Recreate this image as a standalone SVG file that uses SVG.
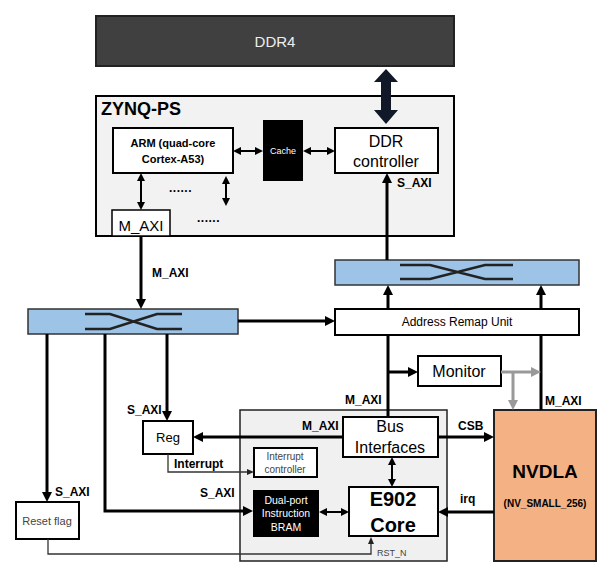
<svg xmlns="http://www.w3.org/2000/svg" width="610" height="574" viewBox="0 0 610 574">
<style>
text{font-family:"Liberation Sans",Arial,sans-serif;}
.b{font-weight:bold;}
.lbl{font-weight:bold;font-size:12px;fill:#000;}
.box{fill:#fff;stroke:#000;stroke-width:2;}
.c{stroke:#000;fill:none;stroke-width:3;}
.cs{stroke:#000;fill:none;stroke-width:2;}
.ct{stroke:#333;fill:none;stroke-width:1.3;}
.cg{stroke:#999;fill:none;stroke-width:3;}
.xb{fill:#9dc3e6;stroke:#333;stroke-width:1.5;}
.xl{stroke:#222;fill:none;stroke-width:2.5;}
</style>
<defs>
<marker id="a" viewBox="0 0 10 10" refX="4" refY="5" markerWidth="10" markerHeight="10" markerUnits="userSpaceOnUse" orient="auto-start-reverse"><path d="M0,0 L10,5 L0,10 z" fill="#000"/></marker>
<marker id="s" viewBox="0 0 8 8" refX="3" refY="4" markerWidth="8" markerHeight="8" markerUnits="userSpaceOnUse" orient="auto-start-reverse"><path d="M0,0 L8,4 L0,8 z" fill="#000"/></marker>
<marker id="t" viewBox="0 0 7 6" refX="2" refY="3" markerWidth="7" markerHeight="6" markerUnits="userSpaceOnUse" orient="auto"><path d="M0,0 L7,3 L0,6 z" fill="#222"/></marker>
<marker id="g" viewBox="0 0 10 10" refX="4" refY="5" markerWidth="10" markerHeight="10" markerUnits="userSpaceOnUse" orient="auto"><path d="M0,0 L10,5 L0,10 z" fill="#999"/></marker>
</defs>

<g id="ddr4">
<rect x="96" y="16" width="358" height="50" fill="#404040" stroke="#222" stroke-width="2"/>
<text x="275" y="47" font-size="15" fill="#eee" text-anchor="middle">DDR4</text>
</g>

<g id="zynq-ps">
<rect x="96" y="96" width="358" height="140" fill="#f2f2f2" stroke="#000" stroke-width="2"/>
<text x="101" y="115" font-size="18" class="b">ZYNQ-PS</text>
<text x="169" y="192" font-size="12" class="b" letter-spacing="0.5">......</text>
<text x="197" y="222" font-size="12" class="b" letter-spacing="0.5">......</text>
</g>

<g id="arm">
<rect class="box" x="113" y="128" width="120" height="45"/>
<text x="173" y="147" font-size="11" class="b" text-anchor="middle">ARM (quad-core</text>
<text x="173" y="163" font-size="11" class="b" text-anchor="middle">Cortex-A53)</text>
</g>

<g id="cache">
<rect x="263" y="120" width="40" height="61" fill="#000"/>
<text x="283" y="154" font-size="9" fill="#fff" text-anchor="middle">Cache</text>
</g>

<g id="ddr-controller">
<rect class="box" x="335" y="128" width="103" height="45"/>
<text x="386" y="147" font-size="16" text-anchor="middle">DDR</text>
<text x="386" y="167" font-size="16" text-anchor="middle">controller</text>
</g>

<g id="m-axi-port">
<rect x="112" y="210" width="58" height="26" fill="#fff" stroke="#000" stroke-width="1.5"/>
<text x="141" y="231" font-size="15" text-anchor="middle">M_AXI</text>
</g>

<g id="crossbar-left">
<rect class="xb" x="28" y="309" width="210" height="25"/>
<path class="xl" d="M85,314 H110 L157,329 H182 M85,329 H110 L157,314 H182"/>
</g>

<g id="crossbar-right">
<rect class="xb" x="335" y="260" width="244" height="25"/>
<path class="xl" d="M400,265 H430 L485,279 H513 M400,279 H430 L485,265 H513"/>
</g>

<g id="address-remap-unit">
<rect class="box" x="335" y="309" width="244" height="26"/>
<text x="457" y="326" font-size="12" text-anchor="middle">Address Remap Unit</text>
</g>

<g id="monitor">
<rect class="box" x="418" y="356" width="83" height="30"/>
<text x="459" y="377" font-size="16" text-anchor="middle">Monitor</text>
</g>

<g id="reg">
<rect class="box" x="143" y="421" width="50" height="33"/>
<text x="168" y="442" font-size="13" text-anchor="middle">Reg</text>
</g>

<g id="reset-flag">
<rect class="box" x="16" y="502" width="63" height="37"/>
<text x="47" y="525" font-size="11" fill="#444" text-anchor="middle">Reset flag</text>
</g>

<g id="e902-subsystem">
<rect x="240" y="410" width="207" height="151" fill="#f0f0f0" stroke="#222" stroke-width="1.5"/>
</g>

<g id="bus-interfaces">
<rect class="box" x="343" y="417" width="95" height="40"/>
<text x="390" y="432" font-size="16" text-anchor="middle">Bus</text>
<text x="390" y="453" font-size="16" text-anchor="middle">Interfaces</text>
</g>

<g id="interrupt-controller">
<rect class="box" x="254" y="448" width="63" height="29"/>
<text x="285" y="460" font-size="10" fill="#444" text-anchor="middle">Interrupt</text>
<text x="285" y="473" font-size="10" fill="#444" text-anchor="middle">controller</text>
</g>

<g id="bram">
<rect x="253" y="490" width="66" height="47" fill="#000"/>
<text x="286" y="504" font-size="10.5" fill="#fff" text-anchor="middle">Dual-port</text>
<text x="286" y="517" font-size="10.5" fill="#fff" text-anchor="middle">Instruction</text>
<text x="286" y="531" font-size="10.5" fill="#fff" text-anchor="middle">BRAM</text>
</g>

<g id="e902-core">
<rect class="box" x="349" y="487" width="89" height="49"/>
<text x="393" y="506" font-size="20" class="b" text-anchor="middle">E902</text>
<text x="393" y="532" font-size="20" class="b" text-anchor="middle">Core</text>
</g>

<g id="nvdla">
<rect x="494" y="410" width="102" height="151" fill="#f4b183" stroke="#222" stroke-width="2"/>
<text x="545" y="478" font-size="19" class="b" text-anchor="middle">NVDLA</text>
<text x="545" y="507" font-size="10" class="b" text-anchor="middle">(NV_SMALL_256)</text>
</g>

<g id="connectors">
<polygon points="386,69 398,82 391,82 391,110 398,110 386,124 374,110 381,110 381,82 374,82" fill="#111827"/>
<line class="cs" x1="238" y1="151" x2="258" y2="151" marker-start="url(#s)" marker-end="url(#s)"/>
<line class="cs" x1="308" y1="151" x2="330" y2="151" marker-start="url(#s)" marker-end="url(#s)"/>
<line class="cs" x1="141" y1="178" x2="141" y2="205" marker-start="url(#s)" marker-end="url(#s)"/>
<line class="cs" x1="226" y1="181" x2="226" y2="201" marker-start="url(#s)" marker-end="url(#s)"/>
<line class="c" x1="387" y1="260" x2="387" y2="179" marker-end="url(#a)"/>
<line class="c" x1="141" y1="236" x2="141" y2="303" stroke-width="2.5" marker-end="url(#a)"/>
<line class="c" x1="238" y1="321" x2="329" y2="321" marker-end="url(#a)"/>
<line class="c" x1="388" y1="309" x2="388" y2="291" marker-end="url(#a)"/>
<line class="c" x1="541" y1="309" x2="541" y2="291" marker-end="url(#a)"/>
<line class="c" x1="388" y1="335" x2="388" y2="417"/>
<line class="c" x1="388" y1="372" x2="412" y2="372" marker-end="url(#a)"/>
<line class="c" x1="541" y1="335" x2="541" y2="410"/>
<line class="cg" x1="501" y1="372" x2="535" y2="372" marker-end="url(#g)"/>
<line class="cg" x1="513" y1="372" x2="513" y2="404" marker-end="url(#g)"/>
<line class="c" x1="47" y1="334" x2="47" y2="496" marker-end="url(#a)"/>
<polyline class="c" points="105,334 105,511 247,511" stroke-width="4" marker-end="url(#a)"/>
<line class="c" x1="167" y1="334" x2="167" y2="415" marker-end="url(#a)"/>
<line class="c" x1="343" y1="437" x2="199" y2="437" marker-end="url(#a)"/>
<line class="c" x1="438" y1="437" x2="488" y2="437" marker-end="url(#a)"/>
<line class="c" x1="494" y1="512" x2="444" y2="512" marker-end="url(#a)"/>
<line class="cs" x1="392" y1="462" x2="392" y2="482" marker-start="url(#s)" marker-end="url(#s)"/>
<line class="cs" x1="324" y1="512" x2="344" y2="512" marker-start="url(#s)" marker-end="url(#s)"/>
<polyline class="ct" points="168,454 168,472 249,472" marker-end="url(#t)"/>
<polyline class="ct" points="48,539 48,554 371,554 371,542" marker-end="url(#t)"/>
</g>

<g id="labels">
<text class="lbl" x="397" y="187">S_AXI</text>
<text class="lbl" x="152" y="277">M_AXI</text>
<text class="lbl" x="345" y="404">M_AXI</text>
<text class="lbl" x="545" y="405">M_AXI</text>
<text class="lbl" x="127" y="414">S_AXI</text>
<text class="lbl" x="302" y="430">M_AXI</text>
<text class="lbl" x="458" y="430">CSB</text>
<text class="lbl" x="174" y="468">Interrupt</text>
<text class="lbl" x="55" y="496">S_AXI</text>
<text class="lbl" x="200" y="497">S_AXI</text>
<text class="lbl" x="460" y="503">irq</text>
<text x="377" y="556" font-size="9" fill="#444">RST_N</text>
</g>
</svg>
